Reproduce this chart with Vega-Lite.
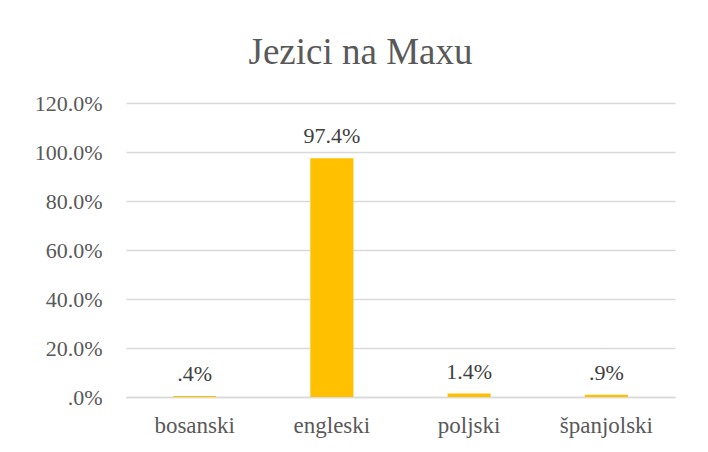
{
  "$schema": "https://vega.github.io/schema/vega-lite/v6.json",
  "autosize": "none",
  "width": 549,
  "height": 294,
  "padding": {"left": 126, "top": 103, "right": 33, "bottom": 55},
  "background": "white",
  "title": {
    "text": "Jezici na Maxu",
    "font": "Liberation Serif",
    "fontSize": 37,
    "fontWeight": "normal",
    "color": "#595959",
    "anchor": "middle",
    "dx": -40,
    "offset": 20
  },
  "data": {
    "values": [
      {"jezik": "bosanski", "udio": 0.4},
      {"jezik": "engleski", "udio": 97.4},
      {"jezik": "poljski", "udio": 1.4},
      {"jezik": "španjolski", "udio": 0.9}
    ]
  },
  "transform": [
    {"calculate": "replace(format(datum.udio, '.1f'), '0.', '.') + '%'", "as": "oznaka"}
  ],
  "encoding": {
    "x": {
      "field": "jezik",
      "type": "nominal",
      "sort": null,
      "scale": {"paddingInner": 0.686, "paddingOuter": 0.343},
      "axis": {
        "title": null,
        "labelAngle": 0,
        "labelFont": "Liberation Serif",
        "labelFontSize": 23,
        "labelColor": "#595959",
        "labelPadding": 17,
        "ticks": false,
        "domain": true,
        "domainColor": "#d9d9d9",
        "domainWidth": 1.5
      }
    },
    "y": {
      "field": "udio",
      "type": "quantitative",
      "scale": {"domain": [0, 120]},
      "axis": {
        "title": null,
        "values": [0, 20, 40, 60, 80, 100, 120],
        "labelExpr": "datum.value == 0 ? '.0%' : format(datum.value, '.1f') + '%'",
        "labelFont": "Liberation Serif",
        "labelFontSize": 22,
        "labelColor": "#595959",
        "labelPadding": 24,
        "ticks": false,
        "domain": false,
        "grid": true,
        "gridColor": "#d9d9d9",
        "gridWidth": 1.5
      }
    }
  },
  "layer": [
    {"mark": {"type": "bar", "color": "#FFC000"}},
    {
      "mark": {
        "type": "text",
        "baseline": "alphabetic",
        "dy": -15,
        "font": "Liberation Serif",
        "fontSize": 22,
        "color": "#404040"
      },
      "encoding": {"text": {"field": "oznaka"}}
    }
  ],
  "config": {"view": {"stroke": null}}
}
